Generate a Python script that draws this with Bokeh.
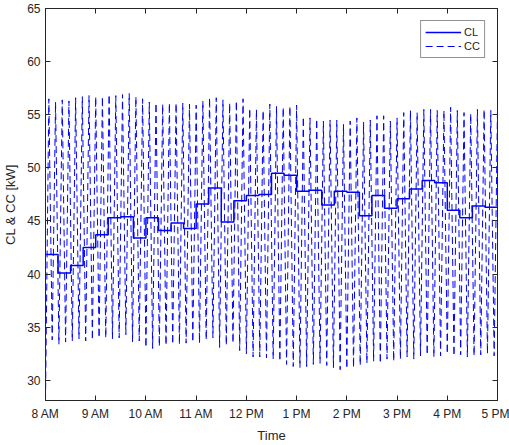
from bokeh.plotting import figure
from bokeh.models import (LinearAxis, FixedTicker, Range1d, Legend, LegendItem,
                          ColumnDataSource)
from bokeh.embed import file_html
from bokeh.resources import INLINE

# --- data -------------------------------------------------------------------
hour_ticks = [8, 9, 10, 11, 12, 13, 14, 15, 16, 17]
hour_labels = ["8 AM", "9 AM", "10 AM", "11 AM", "12 PM",
               "1 PM", "2 PM", "3 PM", "4 PM", "5 PM"]
kw_ticks = [30, 35, 40, 45, 50, 55, 60, 65]

# CL: one level per 15-minute block from 8:00 to 17:00
cl_kw = [41.85, 40.1, 40.8, 42.5, 43.7, 45.3, 45.4, 43.4, 45.3, 44.1,
         44.8, 44.3, 46.6, 48.1, 44.9, 46.9, 47.4, 47.5, 49.5, 49.3,
         47.8, 47.9, 46.5, 47.8, 47.7, 45.5, 47.4, 46.2, 47.1, 48.0,
         48.8, 48.6, 46.0, 45.3, 46.4, 46.3]

# CC: samples every 4 minutes, alternating low (8:00, 8:08, ...) and
# high (8:04, 8:12, ...) values
cc_low_kw = [28.1, 33.8, 33.4, 33.6, 33.7, 33.9, 33.7, 33.8, 34.0, 34.0,
             33.9, 34.0, 34.3, 33.6, 33.7, 33.1, 33.0, 33.2, 33.3, 33.4,
             33.4, 33.5, 33.6, 33.5, 33.8, 34.0, 33.1, 33.3, 33.5, 32.8,
             32.5, 32.2, 32.2, 32.1, 32.0, 31.8, 31.5, 31.3, 31.2, 31.3,
             31.5, 31.6, 31.4, 31.2, 31.0, 31.1, 31.2, 31.4, 31.6, 31.8,
             31.6, 32.0, 31.8, 32.0, 32.2, 32.0, 32.3, 32.4, 32.2, 32.3,
             32.5, 32.3, 32.4, 32.2, 32.3, 32.4, 32.5, 32.3]
cc_high_kw = [56.5, 56.2, 56.4, 56.3, 56.6, 56.7, 56.8, 56.7, 56.7, 56.9,
              56.8, 56.9, 57.0, 56.7, 56.5, 56.2, 56.1, 56.0, 56.1, 56.1,
              56.1, 56.0, 55.9, 56.3, 56.6, 56.6, 56.4, 56.1, 56.3, 56.5,
              55.6, 55.5, 55.4, 56.0, 55.8, 55.7, 55.8, 55.9, 54.8, 54.7,
              54.6, 54.4, 54.5, 54.5, 54.1, 54.4, 54.7, 54.3, 54.5, 54.9,
              54.9, 54.4, 54.7, 55.2, 55.4, 55.2, 55.5, 55.5, 55.4, 55.4,
              55.7, 55.4, 55.2, 55.1, 55.5, 55.5, 55.4, 55.5]

# --- series -----------------------------------------------------------------
cl_t = [8 + 0.25 * k for k in range(len(cl_kw) + 1)]
cl_y = cl_kw + [cl_kw[-1]]

cc_y = []
for lo, hi in zip(cc_low_kw, cc_high_kw):
    cc_y += [lo, hi]
cc_t = [8 + 4 * i / 60 for i in range(len(cc_y))]

cl_src = ColumnDataSource(dict(t=cl_t, kw=cl_y))
cc_src = ColumnDataSource(dict(t=cc_t, kw=cc_y))

# --- figure -----------------------------------------------------------------
ink = "#262626"
font = "Liberation Sans"

p = figure(width=509, height=445, output_backend="svg", toolbar_location=None,
           x_range=Range1d(8, 17), y_range=Range1d(28.1, 65),
           min_border_left=43, min_border_right=12,
           min_border_top=8, min_border_bottom=40)
p.grid.visible = False
p.outline_line_color = ink
p.background_fill_color = "white"

cc_r = p.line("t", "kw", source=cc_src, line_color="#0000ff",
              line_width=1, line_dash="7 4")
cl_r = p.step("t", "kw", source=cl_src, mode="after",
              line_color="#0000ff", line_width=1.5)

def style_axis(ax, show_labels):
    ax.axis_line_color = ink
    ax.major_tick_line_color = ink
    ax.major_tick_in = 5
    ax.major_tick_out = 0
    ax.minor_tick_line_color = None
    ax.major_label_text_color = ink
    ax.major_label_text_font = font
    ax.major_label_text_font_size = "12px" if show_labels else "0px"
    ax.axis_label_text_color = ink
    ax.axis_label_text_font = font
    ax.axis_label_text_font_size = "13px"
    ax.axis_label_text_font_style = "normal"

xt = FixedTicker(ticks=hour_ticks)
yt = FixedTicker(ticks=kw_ticks)
overrides = {h: lab for h, lab in zip(hour_ticks, hour_labels)}

p.xaxis.ticker = xt
p.xaxis.major_label_overrides = overrides
p.xaxis.axis_label = "Time"
p.yaxis.ticker = yt
p.yaxis.axis_label = "CL & CC [kW]"
for ax in p.xaxis + p.yaxis:
    style_axis(ax, True)
p.xaxis.major_label_standoff = 6
p.xaxis.axis_label_standoff = 4
p.yaxis.major_label_standoff = 5
p.yaxis.axis_label_standoff = 6

# box edges with inward ticks on the top and right
top = LinearAxis(ticker=FixedTicker(ticks=hour_ticks), major_label_standoff=0)
right = LinearAxis(ticker=FixedTicker(ticks=kw_ticks), major_label_standoff=0)
style_axis(top, False)
style_axis(right, False)
p.add_layout(top, "above")
p.add_layout(right, "right")

legend = Legend(items=[LegendItem(label="CL", renderers=[cl_r]),
                       LegendItem(label="CC", renderers=[cc_r])],
                location="top_right", margin=12, padding=4, spacing=0,
                glyph_width=36, glyph_height=14, label_height=14,
                label_width=14, label_standoff=3, border_line_color=ink,
                label_text_font=font, label_text_font_size="11px",
                label_text_color=ink, background_fill_alpha=1)
p.add_layout(legend)

open("out.html", "w").write(file_html(p, INLINE))
